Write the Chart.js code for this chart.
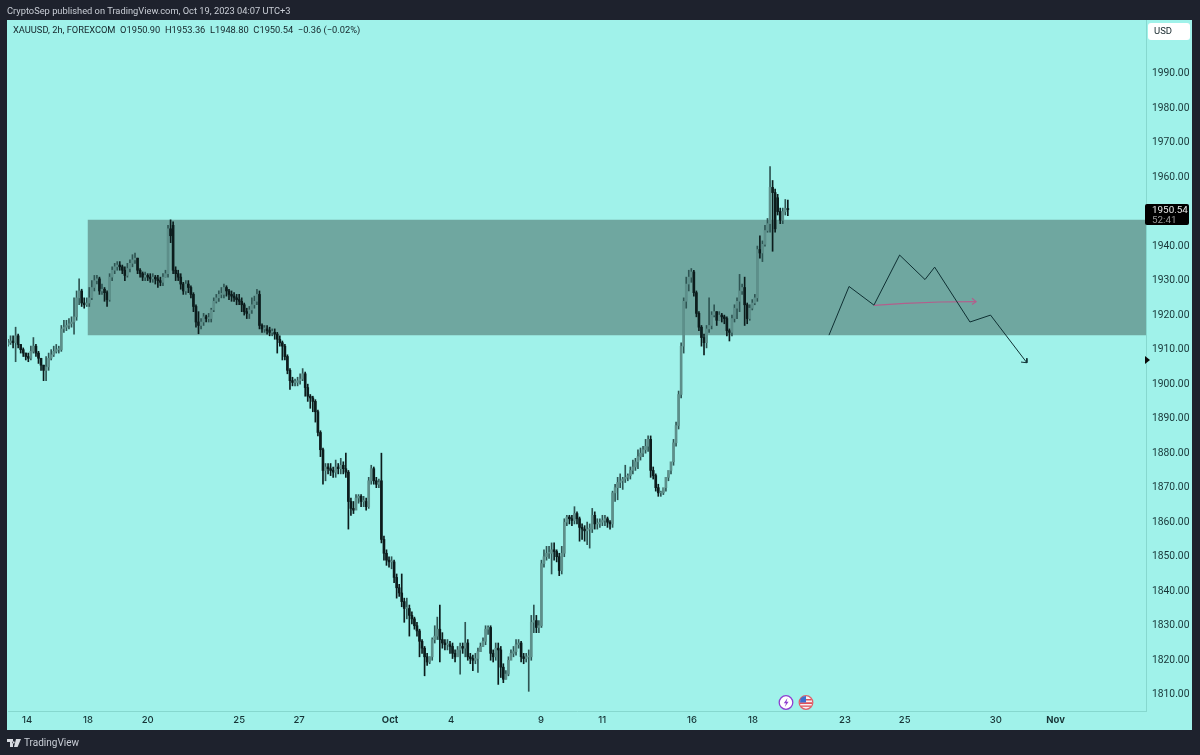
<!DOCTYPE html>
<html><head><meta charset="utf-8">
<script src="https://cdn.jsdelivr.net/npm/chart.js@4"></script>
<style>
html,body{margin:0;padding:0;background:#1e222d;width:1200px;height:755px;overflow:hidden;font-family:Roboto,"Noto Sans",sans-serif}
#panel{position:absolute;left:7px;top:20px;width:1185px;height:710px;background:#a0f2ea}
canvas{position:absolute;left:0;top:0}
.t{position:absolute;white-space:pre;line-height:12px}
</style></head><body>
<div id="panel"></div>
<canvas id="c" width="1200" height="755"></canvas>
<div class="t" style="left:7px;top:5px;font-size:9.3px;color:#c9ced6">CryptoSep published on TradingView.com, Oct 19, 2023 04:07 UTC+3</div>
<div class="t" style="left:13px;top:24px;font-size:9.3px;color:#14252a">XAUUSD, 2h, FOREXCOM  O1950.90  H1953.36  L1948.80  C1950.54  −0.36 (−0.02%)</div>
<div style="position:absolute;left:1148px;top:23px;width:42px;height:17px;background:#fff;border-radius:3px"></div>
<div class="t" style="left:1154px;top:25px;font-size:9.5px;color:#14252a">USD</div>
<div style="position:absolute;left:1145px;top:203.5px;width:44px;height:21.5px;background:#000;border-radius:2px"></div>
<div class="t" style="left:1152px;top:203.5px;font-size:9.9px;color:#e8e8e8">1950.54</div>
<div class="t" style="left:1152px;top:213.5px;font-size:9.9px;color:#9a9a9a">52:41</div>
<svg style="position:absolute;left:1144px;top:355px" width="6" height="10"><path d="M1 1L6 5L1 9Z" fill="#0a0a0a"/></svg>
<svg style="position:absolute;left:778px;top:694px" width="36" height="17" viewBox="0 0 36 17">
<circle cx="8" cy="8.5" r="6.8" fill="#fff" stroke="#8e3fd0" stroke-width="1.3"/><path d="M9.5 4L5.8 9.2H8L6.8 13L10.6 7.7H8.4Z" fill="#8e3fd0"/>
<circle cx="28" cy="8.5" r="6.8" fill="#f4f4f4" stroke="#e0606a" stroke-width="1.3"/><path d="M22.5 5h11v1.6h-11zM22 8.3h12v1.6H22zM23 11.4h10v1.4H23z" fill="#e0505a"/><path d="M22.5 4.6a6.5 6.5 0 0 1 5.5-2.6V8.5h-6z" fill="#3a6fd0"/></svg>
<svg style="position:absolute;left:7px;top:739px" width="14" height="9" viewBox="0 0 14 9"><path d="M0 0H6V8H3V3H0ZM6.5 2.2a1.2 1.2 0 1 0 .01 0ZM9 0H14L10.6 8H7Z" fill="#d8dbe0"/></svg>
<div class="t" style="left:24px;top:737px;font-size:10px;color:#c9ced6">TradingView</div>
<script>
// Price ticks and time ticks
const priceTicks = [1810,1820,1830,1840,1850,1860,1870,1880,1890,1900,1910,1920,1930,1940,1950,1960,1970,1980,1990];
const timeTicks  = [7.5,31.5,55,91,114.6,150.4,174.4,209.8,233.9,269.3,293.3,329.5,353,388.9,412.4];
const timeLabels = ["14","18","20","25","27","Oct","4","9","11","16","18","23","25","30","Nov"];

// 2h candles, one value per bar
const opens = [
1911.5,1912,1912.5,1912,1914,1911.5,1910,1909,1908,1907.5,
1909.5,1911,1909,1907.5,1905.5,1904,1905,1907.5,1908.5,1909.5,
1910,1910,1916,1916.5,1917,1917.5,1918,1919.5,1925,1927,
1923.5,1923,1923.5,1925,1928,1930,1930.5,1927,1927.5,1926.5,
1924.5,1931,1933,1934,1934.5,1934,1933,1931.5,1933.5,1935,
1936,1936.5,1933,1932,1931,1931.5,1931,1930.5,1931,1930.5,
1930,1929.5,1931,1932,1945,1946,1933,1932,1931,1929,
1927,1929,1928,1926,1922.5,1918,1917,1918,1919.5,1919,
1919,1921.5,1924,1925,1926,1926,1928,1927,1926,1925.5,
1925,1924.5,1924,1923,1921,1920.5,1921.5,1923,1924,1926,
1917,1916,1916,1915.5,1915,1915,1914.5,1913,1912,1911,
1908,1904,1901,1900.5,1900.5,1901,1901.5,1903,1899,1896.5,
1896,1895,1892,1886,1881,1875,1876,1875.5,1875,1874.5,
1876,1875.5,1876.5,1875.5,1874.5,1866,1864,1863.5,1867,1867.5,
1866,1866,1864.5,1872,1875.5,1872,1871,1872,1855,1851,
1849,1848.5,1848.5,1844,1841,1839.5,1837,1835,1835,1833,
1832,1830,1828.5,1825.5,1823.5,1821,1819.5,1821,1826,1827,
1829,1826,1825,1824.5,1824.5,1824,1822,1821,1823,1824,
1823.5,1825,1821,1820.5,1820,1820.5,1822.5,1824,1825.5,1829,
1829.5,1822,1821,1823.5,1823,1818,1814.5,1816,1820,1822,
1822.5,1824.5,1825,1821,1820.5,1821,1821,1831,1831.5,1829.5,
1830,1848,1850,1851,1851,1852,1851.5,1850,1846,1851,
1860,1861.5,1861,1860.5,1862.5,1861,1858.5,1858,1857.5,1858,
1858,1862,1859.5,1859.5,1860,1860.5,1861,1860,1859.5,1868.5,
1870,1871.5,1872,1872.5,1873,1873.5,1875,1876,1877.5,1879,
1880,1881,1882,1884,1875,1873.5,1870,1868.5,1868.5,1870,
1873,1875,1877.5,1883,1888,1897,1911,1924,1929,1931,
1932.5,1926.5,1920.5,1916.5,1913.5,1912,1916,1917,1920,1921,
1918.5,1920,1919.5,1919,1915.5,1915,1919,1922,1924,1927,
1928,1923,1919,1922,1923.5,1925,1939,1938,1940.5,1944.5,
1946.5,1957,1955.5,1954,1950,1947.5,1950,1950.9];
const closes = [
1912,1912.5,1912,1914,1911.5,1910,1909,1908,1907.5,1909.5,
1911,1909,1907.5,1905.5,1904,1905,1907.5,1908.5,1909.5,1910,
1910,1916,1916.5,1917,1917.5,1918,1919.5,1925,1927,1923.5,
1923,1923.5,1925,1928,1930,1930.5,1927,1927.5,1926.5,1924.5,
1931,1933,1934,1934.5,1934,1933,1931.5,1933.5,1935,1936,
1936.5,1933,1932,1931,1931.5,1931,1930.5,1931,1930.5,1930,
1929.5,1931,1932,1945,1943,1933,1932,1931,1929,1927,
1929,1928,1926,1922.5,1918,1917,1918,1919.5,1919,1919,
1921.5,1924,1925,1926,1926,1928,1927,1926,1925.5,1925,
1924.5,1924,1923,1921,1920.5,1921.5,1923,1924,1926,1917,
1916,1916,1915.5,1915,1915,1914.5,1913,1912,1911,1908,
1904,1901,1900.5,1900.5,1901,1901.5,1903,1899,1896.5,1896,
1895,1892,1886,1881,1875,1876,1875.5,1875,1874.5,1876,
1875.5,1876.5,1875.5,1874.5,1866,1864,1863.5,1867,1867.5,1866,
1866,1864.5,1872,1875.5,1872,1871,1871.5,1855,1851,1849,
1848.5,1848.5,1844,1841,1839.5,1837,1835,1835,1833,1832,
1830,1828.5,1825.5,1823.5,1821,1819.5,1821,1826,1827,1829,
1826,1825,1824.5,1824.5,1824,1822,1821,1823,1824,1823.5,
1825,1821,1820.5,1820,1820.5,1822.5,1824,1825.5,1829,1829.5,
1822,1821,1823.5,1823,1818,1814.5,1816,1820,1822,1822.5,
1824.5,1825,1821,1820.5,1821,1821,1831,1831.5,1829.5,1830,
1848,1850,1851,1851,1852,1851.5,1850,1846,1851,1860,
1861.5,1861,1860.5,1862.5,1861,1858.5,1858,1857.5,1858,1858,
1862,1859.5,1859.5,1860,1860.5,1861,1860,1859.5,1868.5,1870,
1871.5,1872,1872.5,1873,1873.5,1875,1876,1877.5,1879,1880,
1881,1882,1884,1875,1873.5,1870,1868.5,1868.5,1870,1873,
1875,1877.5,1883,1888,1897,1911,1924,1929,1931,1932.5,
1926.5,1920.5,1916.5,1913.5,1912,1916,1917,1920,1921,1918.5,
1920,1919.5,1919,1915.5,1915,1919,1922,1924,1927,1928,
1923,1919,1922,1923.5,1925,1939,1938,1940.5,1944.5,1946.5,
1957,1955.5,1945,1950,1947.5,1950,1950.9,1950.54];
const highs = [
1913,1914,1914,1916.5,1914.5,1911.5,1910.5,1909,1909,1911,
1913.5,1911.5,1909.5,1907,1905.5,1908,1909,1910,1911,1911.5,
1911,1917,1918.5,1918.5,1919,1919.5,1925,1927,1930.5,1927.5,
1925,1925,1928,1930,1931.5,1931.5,1931,1929,1928,1927,
1932,1934,1935,1935.5,1935.5,1934.5,1934,1935,1936,1937.5,
1938,1936.5,1933.5,1932.5,1932.5,1932,1932,1932,1931.5,1931.5,
1931,1932,1933,1946,1947.6,1947,1934,1933,1932,1929.5,
1930,1930,1928.5,1926.5,1923,1921,1919,1920.5,1920,1920.5,
1922,1925,1926,1927,1928,1929,1928.5,1927.5,1927,1926.5,
1926,1926,1925,1923.5,1922,1922.5,1925,1925.5,1927.5,1927,
1917.5,1917,1917,1916.5,1916,1916,1915,1914,1912.5,1911.5,
1908.5,1904.5,1902,1901.5,1902,1903,1904.5,1903.5,1900,1897,
1896.5,1895.5,1892.5,1886.5,1881.5,1877,1877,1877,1876,1878,
1877,1878.5,1877.5,1880,1875,1867,1866,1868,1868,1868,
1867.5,1867,1873,1876.5,1876,1873,1872.5,1880,1856,1852,
1850,1850,1849,1845,1842,1845,1838,1838,1836,1834,
1832.5,1831,1829,1826,1824,1822,1821,1826.5,1830,1832.5,
1836,1828,1826,1826,1825.5,1825,1823,1824,1825,1825,
1831,1826,1822,1821.5,1822,1823.5,1825,1826.5,1830,1830,
1830,1823,1825,1825,1824,1819,1817,1821,1823,1824,
1826,1826,1825.5,1822,1822,1823,1833,1836,1833,1831.5,
1849,1852,1853,1853,1854,1854,1852,1851,1853,1861,
1862,1862,1862,1864.5,1863,1861.5,1859.5,1859,1860,1859.5,
1864,1863,1861,1861,1862,1862,1861.5,1860.5,1869,1871,
1873,1874,1873,1876.5,1874,1876,1878,1878.5,1881,1881.5,
1882,1884,1885,1885,1876,1874,1871,1869,1869.5,1871,
1874,1876,1884,1889,1898,1912,1925,1931,1933,1933.5,
1933,1927,1921,1917,1914.5,1917,1925,1921,1923,1921,
1921,1920.5,1920,1919.5,1916,1920,1923,1925,1931.8,1929,
1931,1923.5,1923,1924.5,1926,1940,1943,1941.5,1946,1948,
1963,1959,1956.5,1955,1951,1951,1953.5,1953.36];
const lows = [
1911,1911.5,1910.5,1906.5,1910.5,1909,1908,1907,1906.5,1907,
1909,1908,1906,1904,1901,1901,1904,1907,1908,1909,
1909,1909.5,1915,1915.5,1916,1916.5,1914.5,1918.5,1923,1922.5,
1922,1922.5,1922.5,1924.5,1927,1929,1926,1926,1924,1922.5,
1924,1930,1932,1933,1933,1932,1930,1931,1932.5,1934,
1935,1932,1931,1930,1930,1930,1929.5,1929.5,1929,1928,
1928.5,1928.5,1931,1931,1941,1932,1930,1930,1927.5,1926,
1926,1926.5,1925,1921,1916.5,1914.6,1916,1917,1918,1918,
1918,1921,1923.5,1924,1925,1925,1925.5,1924.5,1924,1924,
1923,1923,1921,1920,1919,1919,1920.5,1922,1923,1916,
1915,1915,1914.5,1914,1914,1913,1909,1911,1907,1907,
1903,1898.5,1899.5,1899.5,1899.5,1900,1901,1896.5,1895,1893,
1892,1889,1885,1879,1871,1872,1874,1873.5,1873,1873,
1874,1874,1874,1873,1858,1862,1862.5,1865.5,1865.5,1864.5,
1864.5,1863.5,1864,1871,1871,1870,1870,1854,1849,1847.5,
1847,1846.5,1842.5,1838,1838.5,1835.5,1831,1832,1827,1830.5,
1829,1827,1821,1822,1815.5,1818.5,1819,1820,1825,1826,
1819.5,1823.5,1823,1823,1822,1820.5,1819.5,1821.5,1816,1822,
1821,1820,1819,1817,1819,1816.5,1822.5,1824,1824.5,1827.5,
1820,1819.5,1820,1813,1815,1813.5,1814.5,1815.5,1820.5,1821,
1821.5,1823.5,1819.5,1819,1819.5,1811,1820,1828,1828,1828,
1829.5,1847,1849,1849.5,1845,1849,1848.5,1844.5,1845,1850,
1859,1859.5,1859,1859.5,1859.5,1854.5,1855,1854.5,1853.5,1852.5,
1857,1858,1858,1858.5,1859,1859,1858.5,1858,1858.5,1866,
1866.5,1870,1869.5,1871.5,1872,1872.5,1874,1875,1875.5,1878,
1879,1880,1880.5,1873,1872.5,1869,1867.5,1867.5,1868,1869,
1872,1874,1876.5,1882,1887,1896,1909,1922,1927,1929.5,
1925.5,1919.5,1915.5,1911,1908.5,1910.5,1915,1916,1919.5,1917,
1918.5,1918,1917.5,1914,1912.5,1914,1918,1919,1921,1926,
1917,1917.5,1918.5,1921.5,1923,1924,1936.5,1935.5,1940,1944,
1944,1938.5,1944,1949,1946.5,1946.5,1949,1948.80];

// Resistance zone (bar index span and price span)
const zoneStart = 31.3, zoneEnd = 448, zoneTop = 1947.6, zoneBottom = 1914.2;

// Hand-drawn projection
const pathX = [323.2,331.1,340.9,351,361,364.8,378.7,386.8,401.1];
const pathY = [1914.2,1928.3,1922.9,1937.4,1930.3,1933.9,1918,1920,1906.2];
const pathHeadX = [401.1,401.1,398.8];
const pathHeadY = [1907.5,1906.2,1906.4];
const pinkX = [340.9,353.1,366.9,381.1];
const pinkY = [1922.8,1923.4,1923.8,1923.9];
const pinkHeadX = [379.5,381.1,379.5];
const pinkHeadY = [1924.9,1923.9,1923.1];

const pts = (xs, ys) => xs.map((x, i) => ({x, y: ys[i]}));
const barColor = closes.map((c, i) => c >= opens[i] ? '#5d8f8a' : '#0c1c1c');
const wickColor = closes.map((c, i) => c >= opens[i] ? '#2f5553' : '#0c1c1c');
const lineSet = (xs, ys, color, width) => ({type:'line', data:pts(xs, ys), borderColor:color, borderWidth:width, pointRadius:0, tension:0, fill:false, order:0});
const isMonth = c => c.tick && ['Oct','Nov'].includes(timeLabels[timeTicks.indexOf(c.tick.value)]);

new Chart(document.getElementById('c'), {
  data: {
    datasets: [
      {type:'line', data:pts([zoneStart, zoneEnd],[zoneTop, zoneTop]), borderWidth:0, pointRadius:0,
       fill:{value:zoneBottom}, backgroundColor:'#6fa7a0', order:5},
      {type:'bar', data:closes.map((c, i) => ({x:i, y:[lows[i], highs[i]]})), backgroundColor:wickColor,
       barThickness:1, grouped:false, order:3},
      {type:'bar', data:closes.map((c, i) => ({x:i, y:[opens[i], c]})), backgroundColor:barColor,
       barThickness:2, grouped:false, minBarLength:1, order:2},
      lineSet(pathX, pathY, '#0f3033', 1),
      lineSet(pathHeadX, pathHeadY, '#0f3033', 1),
      lineSet(pinkX, pinkY, '#b25f8c', 1.2),
      lineSet(pinkHeadX, pinkHeadY, '#b25f8c', 1.2)
    ]
  },
  options: {
    responsive:false, animation:false,
    layout:{padding:{left:8, top:20, right:9, bottom:25}},
    plugins:{legend:{display:false}, tooltip:{enabled:false}},
    events:[],
    scales:{
      x:{type:'linear', min:0, max:448, offset:false,
        grid:{display:false, offset:false, drawTicks:false, tickLength:0}, border:{display:true, color:'#86d8cf'},
        afterBuildTicks:s => { s.ticks = timeTicks.map(v => ({value:v})); },
        afterFit:s => { s.height = 19; },
        ticks:{autoSkip:false, maxRotation:0, padding:3, color:'#173436',
          font:c => ({family:'Inter', size:9.5, weight:isMonth(c) ? '700' : '500'}),
          callback:v => timeLabels[timeTicks.indexOf(v)]}
      },
      y:{type:'linear', position:'right', min:1805.3, max:2005.5,
        grid:{display:false, drawTicks:false, tickLength:0}, border:{display:true, color:'#86d8cf'},
        afterBuildTicks:s => { s.ticks = priceTicks.map(v => ({value:v})); },
        afterFit:s => { s.width = 45; },
        ticks:{autoSkip:false, padding:6, color:'#173436', font:{family:'Roboto', size:10.3},
          callback:v => v.toFixed(2)}
      }
    }
  }
});
</script>
</body></html>
